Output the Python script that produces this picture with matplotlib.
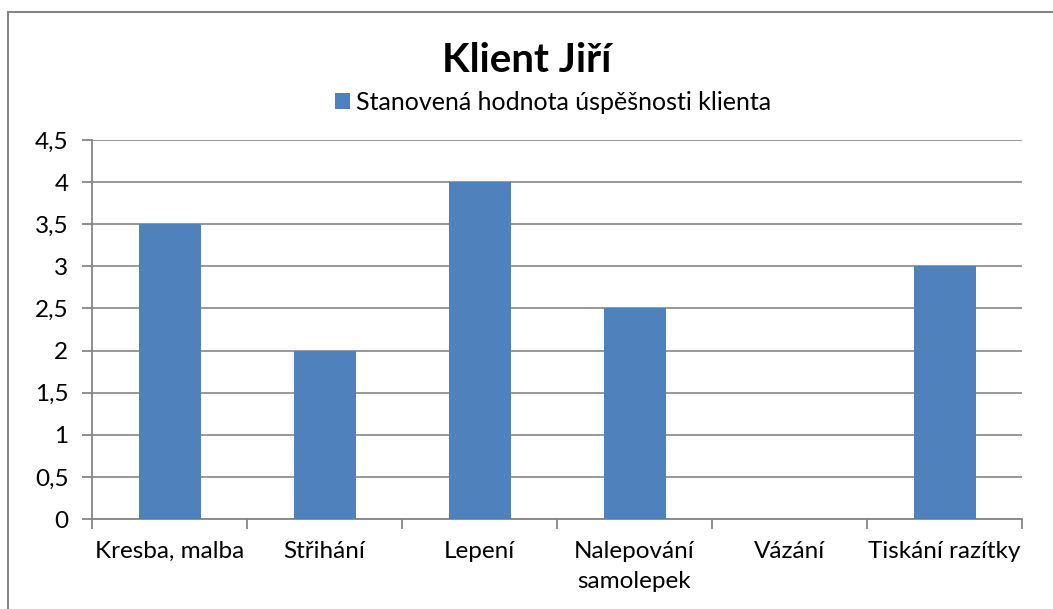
import matplotlib
matplotlib.use("Agg")
import matplotlib.pyplot as plt
from matplotlib.patches import Rectangle, Patch

categories = ["Kresba, malba", "Střihání", "Lepení", "Nalepování\nsamolepek", "Vázání", "Tiskání razítky"]
values = [3.5, 2, 4, 2.5, 0, 3]
series_name = "Stanovená hodnota úspěšnosti klienta"
title = "Klient Jiří"
yticks = [0, 0.5, 1, 1.5, 2, 2.5, 3, 3.5, 4, 4.5]
ytick_labels = ["0", "0,5", "1", "1,5", "2", "2,5", "3", "3,5", "4", "4,5"]

plt.rcParams['font.family'] = ['Lato', 'DejaVu Sans']
W, H = 1053, 609
fig = plt.figure(figsize=(W/100, H/100), dpi=100)

# outer chart border
fig.patches.append(Rectangle((8/W, -0.05), 1.1, 1 - 12/H + 0.05, transform=fig.transFigure,
                             fill=False, edgecolor="#868686", linewidth=1.5))

ax = fig.add_axes([92/W, (H-519)/H, (1022-92)/W, (519-140)/H])
bar_color = "#4F81BD"
x = list(range(len(categories)))
ax.bar(x, values, width=0.4, color=bar_color, zorder=3)
ax.set_xlim(-0.5, len(categories) - 0.5)
ax.set_ylim(0, 4.5)
ax.set_yticks(yticks)
ax.set_yticklabels(ytick_labels, fontsize=17.5)
ax.set_xticks([i - 0.5 for i in range(len(categories) + 1)], minor=False)
ax.set_xticklabels([])
ax.set_xticks(x, minor=True)
ax.set_xticklabels(categories, minor=True, fontsize=17.5, linespacing=1.5)
ax.tick_params(axis='x', which='minor', length=0, pad=16)
ax.tick_params(axis='x', which='major', length=7, color="#868686", width=1.3)
ax.tick_params(axis='y', length=7, color="#868686", width=1.3, pad=10)
ax.yaxis.grid(True, color="#868686", linewidth=1.2, zorder=0)
for s in ["top", "right"]:
    ax.spines[s].set_visible(False)
for s in ["left", "bottom"]:
    ax.spines[s].set_color("#868686")
    ax.spines[s].set_linewidth(1.3)

fig.text(0.5, (H-61)/H, title, ha="center", va="center", fontsize=29, fontweight="bold")
fig.legend(handles=[Patch(facecolor=bar_color, label=series_name)], loc="center",
           bbox_to_anchor=(553/W, (H-102)/H), frameon=False, fontsize=18,
           handlelength=0.6, handleheight=0.6, handletextpad=0.25, borderpad=0)

fig.savefig("out.png", dpi=100)
